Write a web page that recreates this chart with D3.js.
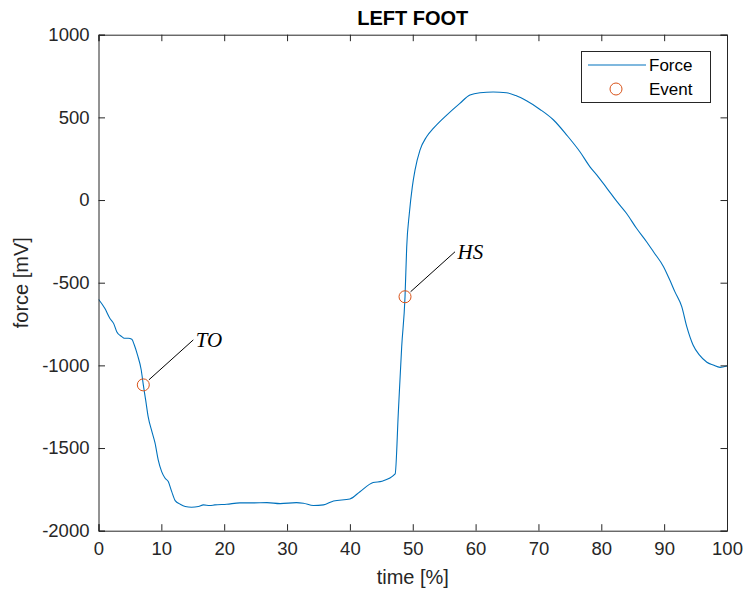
<!DOCTYPE html>
<html>
<head>
<meta charset="utf-8">
<script src="https://cdn.jsdelivr.net/npm/d3@7"></script>
<style>
  html, body { margin: 0; padding: 0; background: #fff; }
  svg { display: block; }
</style>
</head>
<body>
<svg id="chart" width="745" height="595"></svg>
<script>
// ---- data ----
const timePct = [0, 1.0, 1.8, 2.4, 2.9, 3.7, 4.1, 4.75, 5.3, 5.7, 6.2, 6.8, 7.13, 7.5, 7.9, 8.5, 9.0, 9.5, 10.05, 10.6,
  11.1, 11.65, 12.2, 13.0, 13.8, 14.8, 15.9, 16.7, 17.7, 18.5, 20.4, 22.5, 24.6, 26.8, 28.9, 31.5, 32.6, 34.2, 35.8, 37.4,
  40.0, 41.6, 43.7, 45.1, 47.2, 47.7, 48.24, 48.77, 49.04, 49.46, 49.93, 50.36, 51.15, 52.2, 53.27, 55.4, 57.5, 59.1, 60.7, 62.8,
  64.9, 66.4, 68.1, 70.25, 72.4, 74.5, 76.6, 78.2, 79.3, 80.9, 82.5, 84.0, 85.6, 87.2, 88.3, 89.9, 90.9, 91.7, 92.8, 93.6,
  94.6, 95.6, 96.8, 97.8, 98.9, 100];
const forceMV = [-600, -655, -715, -746, -796, -826, -836, -836, -842, -877, -937, -1028, -1118, -1209, -1310, -1401, -1471, -1572, -1643, -1683,
  -1703, -1764, -1818, -1840, -1854, -1858, -1854, -1844, -1848, -1844, -1840, -1832, -1832, -1830, -1836, -1830, -1834, -1848, -1844, -1820,
  -1808, -1764, -1709, -1701, -1657, -1290, -887, -585, -282, -80, 80, 181, 302, 383, 433, 514, 585, 635, 649, 653,
  649, 632, 600, 548, 484, 393, 292, 201, 151, 71, -10, -80, -171, -252, -313, -403, -484, -554, -645, -766,
  -877, -937, -981, -998, -1012, -1004];
const eventTime = [7.13, 48.77];
const eventForce = [-1118, -585];
const eventLabel = ["TO", "HS"];
const xTicks = [0, 10, 20, 30, 40, 50, 60, 70, 80, 90, 100];
const yTicks = [-2000, -1500, -1000, -500, 0, 500, 1000];
const legendLabels = ["Force", "Event"];

// ---- layout ----
const L = 98.5, R = 727, T = 34.7, B = 530.7;
const axisColor = "#262626";
const lineColor = "#0072BD";
const eventColor = "#D95319";
const font = "'Liberation Sans', Arial, Helvetica, sans-serif";
const fmt = d => String(d); // plain hyphen-minus like MATLAB

const svg = d3.select("#chart");
const x = d3.scaleLinear().domain([0, 100]).range([L, R]);
const y = d3.scaleLinear().domain([-2000, 1000]).range([B, T]);

// clip
svg.append("defs").append("clipPath").attr("id", "clip")
  .append("rect").attr("x", L).attr("y", T).attr("width", R - L).attr("height", B - T);

// data line
const pts = timePct.map((t, i) => [t, forceMV[i]]);
svg.append("path")
  .attr("clip-path", "url(#clip)")
  .attr("d", d3.line().curve(d3.curveMonotoneX).x(d => x(d[0])).y(d => y(d[1]))(pts))
  .attr("fill", "none").attr("stroke", lineColor).attr("stroke-width", 1.1)
  .attr("stroke-linejoin", "round");

// axes (ticks inward, box)
const tickLen = 6.5;
const axB = svg.append("g").attr("transform", `translate(0,${B})`)
  .call(d3.axisBottom(x).tickValues(xTicks).tickSize(-tickLen).tickPadding(11).tickFormat(fmt));
const axT = svg.append("g").attr("transform", `translate(0,${T})`)
  .call(d3.axisTop(x).tickValues(xTicks).tickSize(-tickLen).tickFormat(""));
const axL = svg.append("g").attr("transform", `translate(${L},0)`)
  .call(d3.axisLeft(y).tickValues(yTicks).tickSize(-tickLen).tickPadding(9).tickFormat(fmt));
const axR = svg.append("g").attr("transform", `translate(${R},0)`)
  .call(d3.axisRight(y).tickValues(yTicks).tickSize(-tickLen).tickFormat(""));
[axB, axT, axL, axR].forEach(g => {
  g.select(".domain").attr("stroke", axisColor).attr("stroke-width", 1);
  g.selectAll(".tick line").attr("stroke", axisColor).attr("stroke-width", 1);
  g.selectAll(".tick text").attr("fill", axisColor).style("font-family", font).style("font-size", "18.5px");
});

// event markers
svg.append("g").selectAll("circle").data(eventTime).join("circle")
  .attr("cx", d => x(d)).attr("cy", (d, i) => y(eventForce[i])).attr("r", 6)
  .attr("fill", "none").attr("stroke", eventColor).attr("stroke-width", 1);

// annotations
const offX = 50, offY = -45;
const ann = svg.append("g");
eventTime.forEach((t, i) => {
  const cx = x(t), cy = y(eventForce[i]);
  const len = Math.hypot(offX, offY);
  const ux = offX / len, uy = offY / len;
  ann.append("line")
    .attr("x1", cx + ux * 7.5).attr("y1", cy + uy * 7.5)
    .attr("x2", cx + offX).attr("y2", cy + offY)
    .attr("stroke", "#000").attr("stroke-width", 1);
  ann.append("text")
    .attr("x", cx + offX + 2.5).attr("y", cy + offY + 7.5)
    .attr("font-family", "'Liberation Serif', 'Times New Roman', serif")
    .attr("font-style", "italic").attr("font-size", 21).attr("fill", "#000")
    .text(eventLabel[i]);
});

// title & axis labels
svg.append("text").attr("x", (L + R) / 2).attr("y", 25)
  .attr("text-anchor", "middle").attr("font-family", font).attr("font-weight", "bold")
  .attr("font-size", 20).attr("fill", "#000").text("LEFT FOOT");
svg.append("text").attr("x", (L + R) / 2).attr("y", 584)
  .attr("text-anchor", "middle").attr("font-family", font)
  .attr("font-size", 20).attr("fill", axisColor).text("time [%]");
svg.append("text").attr("transform", `translate(28,${(T + B) / 2}) rotate(-90)`)
  .attr("text-anchor", "middle").attr("font-family", font)
  .attr("font-size", 20).attr("fill", axisColor).text("force [mV]");

// legend
const lg = svg.append("g");
lg.append("rect").attr("x", 581.5).attr("y", 51.5).attr("width", 129).attr("height", 51)
  .attr("fill", "#fff").attr("stroke", axisColor).attr("stroke-width", 1);
lg.append("line").attr("x1", 588).attr("x2", 646).attr("y1", 65).attr("y2", 65)
  .attr("stroke", lineColor).attr("stroke-width", 1.1);
lg.append("circle").attr("cx", 616).attr("cy", 89).attr("r", 6)
  .attr("fill", "none").attr("stroke", eventColor).attr("stroke-width", 1);
lg.selectAll("text.lt").data(legendLabels).join("text").attr("class", "lt")
  .attr("x", 649).attr("y", (d, i) => 65 + i * 24).attr("dy", "0.35em")
  .attr("font-family", font).attr("font-size", 17).attr("fill", "#000").text(d => d);
</script>
</body>
</html>
